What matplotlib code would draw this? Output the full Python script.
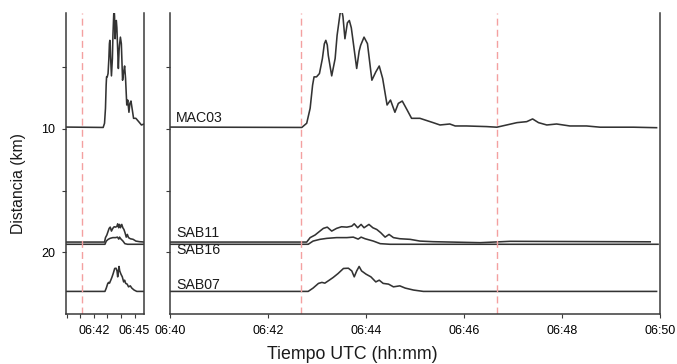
"""
Distancia vs tiempo para MAC03, SAB11, SAB16 y SAB07 (vista comprimida + detalle).
"""
import matplotlib
matplotlib.use('Agg')
import matplotlib.pyplot as plt
from matplotlib.ticker import FixedLocator, FuncFormatter

plt.rcParams['font.family'] = ['Liberation Sans', 'DejaVu Sans']

# tiempo en minutos desde 06:40 UTC, distancia en km
mac03_t = [0.0, 2.69, 2.79, 2.86, 2.91, 2.94, 2.99, 3.05, 3.11, 3.15, 3.18, 3.21,
           3.23, 3.30, 3.37, 3.41, 3.47, 3.50, 3.53, 3.57, 3.62, 3.66, 3.70, 3.73,
           3.81, 3.86, 3.89, 3.96, 4.03, 4.12, 4.20, 4.27, 4.34, 4.43, 4.50, 4.59,
           4.66, 4.74, 4.84, 4.93, 5.03, 5.10, 5.37, 5.51, 5.71, 5.82, 6.05, 6.46,
           6.67, 6.87, 7.08, 7.28, 7.40, 7.52, 7.69, 7.89, 8.16, 8.50, 8.78, 9.46,
           9.93]
mac03_d = [9.85, 9.88, 9.54, 8.33, 6.45, 5.78, 5.78, 5.51, 4.30, 3.10, 2.82, 3.20,
           4.03, 5.70, 4.30, 2.42, 0.67, 0.30, 0.90, 2.69, 1.40, 1.21, 1.80, 2.69,
           5.10, 3.70, 3.23, 2.56, 3.09, 6.05, 5.38, 4.90, 5.91, 8.06, 7.66, 8.65,
           7.93, 7.74, 8.47, 9.14, 9.14, 9.14, 9.49, 9.68, 9.60, 9.76, 9.76, 9.81,
           9.86, 9.68, 9.49, 9.41, 9.19, 9.49, 9.68, 9.60, 9.76, 9.76, 9.86, 9.86,
           9.90]

sab11_t = [0.0, 2.79, 2.86, 2.96, 3.06, 3.13, 3.21, 3.30, 3.40, 3.50, 3.61, 3.71,
           3.76, 3.83, 3.90, 3.96, 4.06, 4.14, 4.22, 4.30, 4.39, 4.47, 4.56, 4.69,
           4.90, 5.10, 5.37, 6.33, 6.94, 9.80]
sab11_d = [19.17, 19.17, 18.81, 18.60, 18.28, 18.06, 17.96, 18.28, 18.06, 17.93,
           17.96, 17.88, 17.69, 18.01, 17.74, 18.01, 17.74, 18.01, 18.15, 18.41,
           18.77, 18.55, 18.81, 18.90, 18.95, 19.09, 19.14, 19.22, 19.11, 19.15]

sab16_t = [0.0, 2.82, 2.92, 3.06, 3.20, 3.40, 3.61, 3.74, 3.84, 3.90, 3.98, 4.15,
           4.29, 4.49, 9.96]
sab16_d = [19.35, 19.35, 19.09, 18.95, 18.87, 18.81, 18.81, 18.77, 18.93, 18.77,
           18.90, 19.09, 19.30, 19.35, 19.35]

sab07_t = [0.0, 2.82, 2.92, 3.03, 3.10, 3.16, 3.25, 3.33, 3.43, 3.54, 3.64, 3.71,
           3.76, 3.81, 3.86, 3.91, 4.00, 4.10, 4.20, 4.27, 4.35, 4.46, 4.56, 4.69,
           4.80, 4.97, 5.17, 9.93]
sab07_d = [23.17, 23.17, 22.90, 22.52, 22.44, 22.50, 22.26, 22.04, 21.72, 21.31,
           21.29, 21.51, 21.99, 21.51, 21.15, 21.51, 21.77, 21.99, 22.40, 22.26,
           22.52, 22.58, 22.80, 22.72, 22.90, 23.06, 23.17, 23.17]

stations = ['MAC03', 'SAB11', 'SAB16', 'SAB07']
label_d = [9.1, 18.4, 19.8, 22.65]

left_marks = [1.1]
right_marks = [2.67, 6.67]

LINE = '#333333'
RED = '#f4a0a0'
SPINE = '#3a3a3a'

fig = plt.figure(figsize=(6.77, 3.64), dpi=100)
ax_l = fig.add_axes([0.0975, 0.1374, 0.1152, 0.827])
ax_r = fig.add_axes([0.2511, 0.1374, 0.7238, 0.827])

series = [(mac03_t, mac03_d), (sab11_t, sab11_d), (sab16_t, sab16_d), (sab07_t, sab07_d)]


def hhmm(x, pos=None):
    return f"06:{40 + int(round(x)):02d}"


for ax, marks in ((ax_l, left_marks), (ax_r, right_marks)):
    for t, d in series:
        ax.plot(t, d, color=LINE, lw=1.15, solid_joinstyle='round')
    for m in marks:
        ax.axvline(m, color=RED, lw=1.0, ls=(0, (5, 3)))
    ax.set_ylim(25, 0.6)
    ax.spines['top'].set_visible(False)
    for s in ('left', 'right', 'bottom'):
        ax.spines[s].set_color(SPINE)
        ax.spines[s].set_linewidth(1.1)
    ax.tick_params(direction='out', length=3, width=0.8, color=SPINE,
                   labelsize=9, pad=5)
    ax.yaxis.set_major_locator(FixedLocator([5, 10, 15, 20]))

ax_l.set_xlim(-0.05, 5.7)
ax_l.xaxis.set_major_locator(FixedLocator([0, 1, 2, 3, 4, 5]))
ax_l.xaxis.set_major_formatter(FuncFormatter(
    lambda x, pos: hhmm(x) if round(x) in (2, 5) else ''))
ax_l.yaxis.set_major_formatter(FuncFormatter(
    lambda y, pos: f"{int(y)}" if y in (10, 20) else ''))

ax_r.set_xlim(0, 10)
ax_r.xaxis.set_major_locator(FixedLocator([0, 2, 4, 6, 8, 10]))
ax_r.xaxis.set_major_formatter(FuncFormatter(hhmm))
ax_r.set_yticklabels([])

for name, y in zip(stations, label_d):
    ax_r.text(0.12, y, name, fontsize=10.2, va='center', ha='left', color='#1a1a1a')

fig.text(0.521, 0.025, 'Tiempo UTC (hh:mm)', fontsize=12.8, ha='center',
         va='center', color='#1a1a1a')
fig.text(0.028, 0.497, 'Distancia (km)', fontsize=11.3, rotation=90,
         ha='center', va='center', color='#1a1a1a')

fig.savefig('out.png', dpi=100)
